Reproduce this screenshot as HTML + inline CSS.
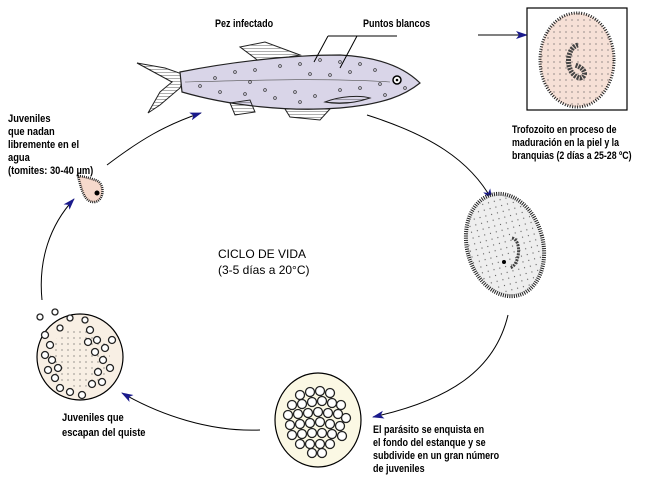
<!DOCTYPE html>
<html><head><meta charset="utf-8"><style>
body{margin:0;background:#fff;}
svg{display:block}
text{font-family:"Liberation Sans",sans-serif;font-weight:bold;font-size:11px;fill:#000}
</style></head><body>
<svg width="650" height="493" viewBox="0 0 650 493" xmlns="http://www.w3.org/2000/svg">
<defs>
<marker id="ah" markerWidth="12" markerHeight="8" refX="11" refY="4" orient="auto" markerUnits="userSpaceOnUse">
<path d="M0,0 L12,4 L0,8 L3,4 Z" fill="#1a1a8c"/>
</marker>
<pattern id="dots" width="6" height="6" patternUnits="userSpaceOnUse"><circle cx="2" cy="2" r="0.6" fill="#555"/></pattern>
<pattern id="hatch" width="3" height="3" patternUnits="userSpaceOnUse"><line x1="0" y1="0" x2="3" y2="0" stroke="#333" stroke-width="0.8"/></pattern>
</defs>

<!-- fish -->
<path d="M240,47 L265,42 L300,55 L260,62 Z" fill="url(#hatch)" stroke="#222" stroke-width="1"/>
<path d="M137,63 L165,68 L185,75 L180,88 L160,105 L148,113 L160,92 L172,82 Z" fill="url(#hatch)" stroke="#222"/>
<path d="M180,72 C230,62 290,55 340,55 C380,57 405,68 420,83 C405,95 385,104 340,108 C290,112 230,106 182,92 Z" fill="#d9d5e8" stroke="#222" stroke-width="1.2"/>
<path d="M230,103 L250,100 L255,112 L235,115 Z" fill="url(#hatch)" stroke="#222"/>
<path d="M285,109 L330,109 L320,120 L290,117 Z" fill="url(#hatch)" stroke="#222"/>
<path d="M325,102 C340,96 360,95 370,98 C355,103 340,105 325,102 Z" fill="url(#hatch)" stroke="#222"/>
<path d="M185,82 C260,80 330,78 390,82" fill="none" stroke="#555" stroke-width="0.6"/>
<circle cx="397" cy="80" r="4" fill="#fff" stroke="#000" stroke-width="1.5"/><circle cx="397" cy="80" r="1.3" fill="#000"/>
<g fill="none" stroke="#333" stroke-width="0.7">
<circle cx="215" cy="78" r="1.4"/><circle cx="235" cy="72" r="1.4"/><circle cx="255" cy="70" r="1.4"/><circle cx="280" cy="66" r="1.4"/><circle cx="300" cy="64" r="1.4"/><circle cx="320" cy="60" r="1.4"/><circle cx="340" cy="62" r="1.4"/><circle cx="360" cy="64" r="1.4"/><circle cx="375" cy="70" r="1.4"/><circle cx="350" cy="72" r="1.4"/><circle cx="330" cy="75" r="1.4"/><circle cx="310" cy="74" r="1.4"/><circle cx="265" cy="90" r="1.4"/><circle cx="245" cy="94" r="1.4"/><circle cx="275" cy="98" r="1.4"/><circle cx="295" cy="92" r="1.4"/><circle cx="315" cy="96" r="1.4"/><circle cx="340" cy="90" r="1.4"/><circle cx="360" cy="88" r="1.4"/><circle cx="380" cy="84" r="1.4"/><circle cx="220" cy="92" r="1.4"/><circle cx="200" cy="86" r="1.4"/><circle cx="385" cy="95" r="1.4"/><circle cx="405" cy="88" r="1.4"/><circle cx="300" cy="102" r="1.4"/><circle cx="250" cy="82" r="1.4"/>
</g>
<!-- pointers -->
<path d="M328,36 L397,36 M328,36 L314,62 M357,36 L340,68" stroke="#000" fill="none" stroke-width="1"/>
<text transform="translate(215,27) scale(0.82,1)">Pez infectado</text>
<text transform="translate(363,27) scale(0.82,1)">Puntos blancos</text>

<!-- box -->
<line x1="478" y1="35" x2="527" y2="35" stroke="#000" marker-end="url(#ah)"/>
<rect x="527" y="8" width="100" height="102" fill="#fff" stroke="#000" stroke-width="1.2"/>
<ellipse cx="577" cy="60" rx="37" ry="47" fill="#f6e0d6" stroke="#222" stroke-width="3" stroke-dasharray="1 1.5"/>
<ellipse cx="577" cy="60" rx="37" ry="47" fill="url(#dots)"/>
<path d="M578,45 C565,48 565,75 580,78 C588,76 585,68 575,65" fill="none" stroke="#444" stroke-width="5" stroke-dasharray="2 1"/>
<g>
<text transform="translate(512,133) scale(0.8,1)">Trofozoito en proceso de</text>
<text transform="translate(512,146) scale(0.8,1)">maduración en la piel y la</text>
<text transform="translate(512,159) scale(0.8,1)">branquias (2 días a 25-28 ºC)</text>
</g>

<!-- cycle arrows -->
<path d="M367,115 C430,135 470,160 492,200" fill="none" stroke="#000" stroke-width="1" marker-end="url(#ah)"/>
<ellipse cx="505" cy="245" rx="38" ry="52" transform="rotate(-15 505 245)" fill="#eeeeee" stroke="#222" stroke-width="4" stroke-dasharray="1 1.2"/>
<ellipse cx="505" cy="245" rx="36" ry="50" transform="rotate(-15 505 245)" fill="url(#dots)"/>
<path d="M512,238 C522,240 520,265 510,268" fill="none" stroke="#444" stroke-width="3" stroke-dasharray="2 1"/>
<circle cx="504" cy="262" r="2" fill="#000"/>

<path d="M508,315 C495,370 450,400 373,417" fill="none" stroke="#000" stroke-width="1" marker-end="url(#ah)"/>
<ellipse cx="318" cy="420" rx="43" ry="47" fill="#fbf8e4" stroke="#000" stroke-width="1.2"/>
<g fill="#fff" stroke="#222" stroke-width="1.3">
<circle cx="300" cy="395" r="4.5"/><circle cx="310" cy="392" r="4.5"/><circle cx="320" cy="391" r="4.5"/><circle cx="330" cy="393" r="4.5"/><circle cx="292" cy="405" r="4.5"/><circle cx="302" cy="404" r="4.5"/><circle cx="312" cy="402" r="4.5"/><circle cx="322" cy="401" r="4.5"/><circle cx="332" cy="403" r="4.5"/><circle cx="341" cy="405" r="4.5"/><circle cx="288" cy="415" r="4.5"/><circle cx="298" cy="414" r="4.5"/><circle cx="308" cy="413" r="4.5"/><circle cx="318" cy="412" r="4.5"/><circle cx="328" cy="413" r="4.5"/><circle cx="338" cy="414" r="4.5"/><circle cx="346" cy="418" r="4.5"/><circle cx="290" cy="425" r="4.5"/><circle cx="300" cy="424" r="4.5"/><circle cx="310" cy="423" r="4.5"/><circle cx="320" cy="422" r="4.5"/><circle cx="330" cy="424" r="4.5"/><circle cx="340" cy="426" r="4.5"/><circle cx="292" cy="435" r="4.5"/><circle cx="302" cy="434" r="4.5"/><circle cx="312" cy="433" r="4.5"/><circle cx="322" cy="433" r="4.5"/><circle cx="332" cy="434" r="4.5"/><circle cx="342" cy="436" r="4.5"/><circle cx="300" cy="444" r="4.5"/><circle cx="310" cy="444" r="4.5"/><circle cx="320" cy="444" r="4.5"/><circle cx="330" cy="444" r="4.5"/><circle cx="312" cy="453" r="4.5"/><circle cx="322" cy="453" r="4.5"/>
</g>
<text transform="translate(373,433) scale(0.82,1)">El parásito se enquista en</text>
<text transform="translate(373,446) scale(0.82,1)">el fondo del estanque y se</text>
<text transform="translate(373,459) scale(0.82,1)">subdivide en un gran número</text>
<text transform="translate(373,472) scale(0.82,1)">de juveniles</text>

<path d="M260,430 C210,432 160,415 122,393" fill="none" stroke="#000" stroke-width="1" marker-end="url(#ah)"/>
<circle cx="80" cy="357" r="43" fill="#f8efe4" stroke="#000" stroke-width="1.2"/>
<circle cx="80" cy="357" r="30" fill="url(#dots)"/>
<g fill="#fff" stroke="#222" stroke-width="1.3">
<circle cx="45" cy="335" r="3.5"/><circle cx="50" cy="345" r="3.5"/><circle cx="45" cy="355" r="3.5"/><circle cx="52" cy="360" r="3.5"/><circle cx="48" cy="370" r="3.5"/><circle cx="55" cy="378" r="3.5"/><circle cx="60" cy="388" r="3.5"/><circle cx="70" cy="392" r="3.5"/><circle cx="58" cy="368" r="3.5"/><circle cx="90" cy="330" r="3.5"/><circle cx="97" cy="340" r="3.5"/><circle cx="105" cy="348" r="3.5"/><circle cx="95" cy="352" r="3.5"/><circle cx="103" cy="360" r="3.5"/><circle cx="110" cy="368" r="3.5"/><circle cx="98" cy="372" r="3.5"/><circle cx="92" cy="384" r="3.5"/><circle cx="82" cy="395" r="3.5"/><circle cx="102" cy="382" r="3.5"/><circle cx="112" cy="340" r="3.5"/><circle cx="88" cy="342" r="3.5"/><circle cx="40" cy="317" r="3"/><circle cx="55" cy="312" r="3"/><circle cx="70" cy="318" r="3"/><circle cx="85" cy="320" r="3"/><circle cx="60" cy="328" r="3"/>
</g>
<text transform="translate(62,421) scale(0.85,1)">Juveniles que</text>
<text transform="translate(62,436) scale(0.85,1)">escapan del quiste</text>

<path d="M42,300 C38,260 50,225 74,199" fill="none" stroke="#000" stroke-width="1" marker-end="url(#ah)"/>
<path d="M78,176 C82,176 90,178 95,180 C105,182 105,200 95,202 C85,203 82,192 78,176 Z" fill="#f6d9cc" stroke="#222" stroke-width="2.5" stroke-dasharray="1 1"/>
<circle cx="97" cy="193" r="2.5" fill="#000"/>
<path d="M107,165 C140,140 165,125 201,113" fill="none" stroke="#000" stroke-width="1" marker-end="url(#ah)"/>
<text transform="translate(8,122) scale(0.85,1)">Juveniles</text>
<text transform="translate(8,135) scale(0.85,1)">que nadan</text>
<text transform="translate(8,148) scale(0.85,1)">libremente en el</text>
<text transform="translate(8,161) scale(0.85,1)">agua</text>
<text transform="translate(8,174) scale(0.85,1)">(tomites: 30-40 µm)</text>

<text x="218" y="258" style="font-weight:normal;font-size:12px">CICLO DE VIDA</text>
<text x="218" y="274" style="font-weight:normal;font-size:12px">(3-5 días a 20°C)</text>
</svg>
</body></html>
